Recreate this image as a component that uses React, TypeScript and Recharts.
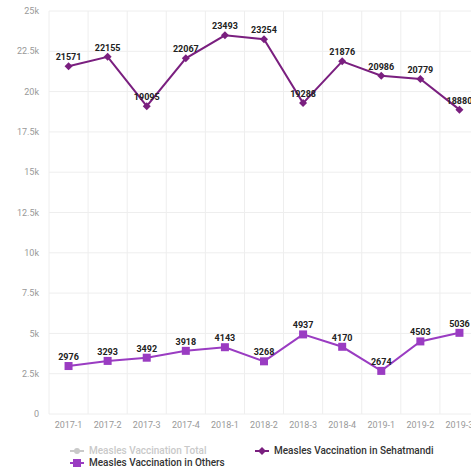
import React from "react";
import { CartesianGrid, LabelList, Legend, Line, LineChart, XAxis, YAxis } from "recharts";

const quarters = [
  "2017-1", "2017-2", "2017-3", "2017-4",
  "2018-1", "2018-2", "2018-3", "2018-4",
  "2019-1", "2019-2", "2019-3",
];
const sehatmandi = [21571, 22155, 19095, 22067, 23493, 23254, 19288, 21876, 20986, 20779, 18880];
const others = [2976, 3293, 3492, 3918, 4143, 3268, 4937, 4170, 2674, 4503, 5036];
const yTicks = [0, 2500, 5000, 7500, 10000, 12500, 15000, 17500, 20000, 22500, 25000];

const legendItems = [
  { name: "Measles Vaccination Total", color: "#c9c9c9", text: "#c9c9c9", shape: "circle" },
  { name: "Measles Vaccination in Sehatmandi", color: "#7a1f7f", text: "#333", shape: "diamond" },
  { name: "Measles Vaccination in Others", color: "#9a3cc2", text: "#333", shape: "square" },
];

const data = quarters.map((q, i) => ({ q, sehat: sehatmandi[i], others: others[i] }));

const fmtK = (v: number) => (v === 0 ? "0" : `${v / 1000}k`);

function Diamond({ cx, cy }: any) {
  if (cx == null || cy == null) return null;
  return <polygon points={`${cx},${cy - 4} ${cx + 4},${cy} ${cx},${cy + 4} ${cx - 4},${cy}`} fill="#7a1f7f" />;
}

function Square({ cx, cy }: any) {
  if (cx == null || cy == null) return null;
  return <rect x={cx - 4} y={cy - 4} width={8} height={8} fill="#9a3cc2" />;
}

function Icon({ shape, color }: { shape: string; color: string }) {
  return (
    <svg width={14} height={8} style={{ marginRight: 5, flex: "none" }}>
      <line x1={0} y1={4} x2={14} y2={4} stroke={color} strokeWidth={2} />
      {shape === "circle" && <circle cx={7} cy={4} r={3} fill={color} />}
      {shape === "diamond" && <polygon points="7,0 11,4 7,8 3,4" fill={color} />}
      {shape === "square" && <rect x={3} y={0} width={8} height={8} fill={color} />}
    </svg>
  );
}

function renderLegend() {
  return (
    <div style={{ display: "grid", gridTemplateColumns: "185px auto", fontSize: 10, fontWeight: 500, lineHeight: "12px" }}>
      {legendItems.map((it) => (
        <div key={it.name} style={{ display: "flex", alignItems: "center", height: 12, color: it.text, whiteSpace: "nowrap" }}>
          <Icon shape={it.shape} color={it.color} />
          {it.name}
        </div>
      ))}
    </div>
  );
}

// grid lines sit on the category band edges, not the centres
const bandEdges = ({ offset }: any) => {
  const n = quarters.length;
  const out: number[] = [];
  for (let i = 0; i <= n; i++) out.push(offset.left + (i * offset.width) / n);
  return out;
};

const labelStyle = { fontSize: 9, fontWeight: 700, fill: "#222" };

export default function App() {
  return (
    <div style={{ width: 471, height: 469, overflow: "hidden", position: "relative", fontFamily: "Roboto, sans-serif" }}>
      <style>{"html,body{margin:0;padding:0;overflow:hidden}"}</style>
      <LineChart width={485} height={469} data={data} margin={{ top: 11, right: 6, left: 0, bottom: 25 }}>
        <CartesianGrid stroke="#eeeeee" verticalCoordinatesGenerator={bandEdges} />
        <XAxis
          dataKey="q"
          scale="band"
          height={30}
          axisLine={false}
          tickLine={false}
          tick={{ fill: "#999", fontSize: 9 }}
          interval={0}
        />
        <YAxis
          width={49}
          domain={[0, 25000]}
          ticks={yTicks}
          tickFormatter={fmtK}
          axisLine={false}
          tickLine={false}
          tickMargin={4}
          tick={{ fill: "#999", fontSize: 9 }}
        />
        <Legend
          layout="horizontal"
          verticalAlign="middle"
          align="center"
          content={renderLegend}
          wrapperStyle={{ top: 445, left: 70, width: 400, height: 26, overflow: "visible" }}
        />
        <Line
          dataKey="sehat"
          stroke="#7a1f7f"
          strokeWidth={2}
          dot={<Diamond />}
          isAnimationActive={false}
        >
          <LabelList dataKey="sehat" position="top" offset={6} style={labelStyle} />
        </Line>
        <Line
          dataKey="others"
          stroke="#9a3cc2"
          strokeWidth={2}
          dot={<Square />}
          isAnimationActive={false}
        >
          <LabelList dataKey="others" position="top" offset={6} style={labelStyle} />
        </Line>
      </LineChart>
    </div>
  );
}
